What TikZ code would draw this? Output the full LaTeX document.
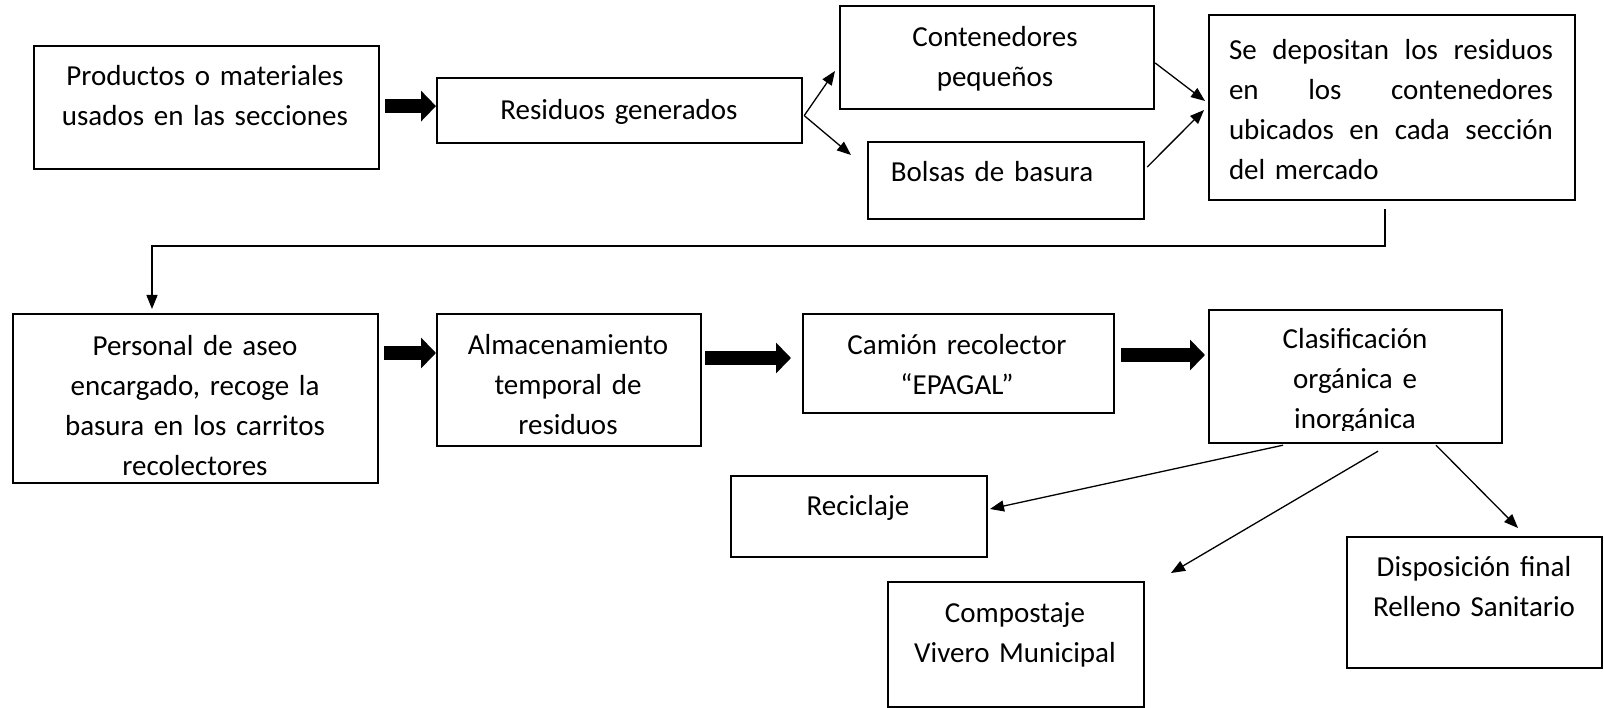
\documentclass[tikz,border=0pt]{standalone}
\usepackage{fontspec}
\setmainfont{Carlito}
\usetikzlibrary{arrows.meta,calc}
\newcommand{\fullline}[1]{\leavevmode\hbox to 324pt{#1}}
\begin{document}
\begin{tikzpicture}[x=1pt,y=-1pt,
  boxshape/.style={draw=black,line width=2.2pt,rectangle,inner sep=0pt,anchor=north west},
  boxtext/.style={font=\fontsize{29}{40}\selectfont,inner sep=0pt,anchor=base,align=center,text width=#1},
  boxtext/.default=340pt,
  linkarrow/.style={line width=1.3pt,-{Triangle[length=14pt,width=11pt]}},
  bigarrow/.style={line width=14pt,-{Triangle[length=15pt,width=30pt]}},
]
\useasboundingbox (0,0) rectangle (1604,708);

% boxes
\node[boxshape,minimum width=345pt,minimum height=123pt] (b1) at (33,45) {};
\node[boxshape,minimum width=365pt,minimum height=65pt] (b2) at (436,77) {};
\node[boxshape,minimum width=314pt,minimum height=103pt] (b3) at (839,5) {};
\node[boxshape,minimum width=276pt,minimum height=77pt] (b4) at (867,141) {};
\node[boxshape,minimum width=366pt,minimum height=185pt] (b5) at (1208,14) {};
\node[boxshape,minimum width=365pt,minimum height=169pt] (b6) at (12,313) {};
\node[boxshape,minimum width=264pt,minimum height=132pt] (b7) at (436,313) {};
\node[boxshape,minimum width=311pt,minimum height=99pt] (b8) at (802,313) {};
\node[boxshape,minimum width=293pt,minimum height=133pt] (b9) at (1208,309) {};
\node[boxshape,minimum width=256pt,minimum height=81pt] (b10) at (730,475) {};
\node[boxshape,minimum width=256pt,minimum height=125pt] (b11) at (887,581) {};
\node[boxshape,minimum width=255pt,minimum height=131pt] (b12) at (1346,536) {};

% texts
\node[boxtext] (t1) at (205,86) {Productos o materiales\\usados en las secciones};
\node[boxtext] (t2) at (619,120) {Residuos generados};
\node[boxtext] (t3) at (995,47) {Contenedores\\pequeños};
\node[boxtext] (t4) at (992,182) {Bolsas de basura};
\node[boxtext=324pt,align=left] (t5) at (1391,60) {\fullline{Se\hfill depositan\hfill los\hfill residuos}\\\fullline{en\hfill los\hfill contenedores}\\\fullline{ubicados\hfill en\hfill cada\hfill sección}\\del mercado};
\node[boxtext] (t6) at (195,356) {Personal de aseo\\encargado, recoge la\\basura en los carritos\\recolectores};
\node[boxtext=260pt] (t7) at (568,355) {Almacenamiento\\temporal de\\residuos};
\node[boxtext=300pt] (t8) at (957,355) {Camión recolector\\“EPAGAL”};
\begin{scope}
\clip (1210,300) rectangle (1499,431);
\node[boxtext=290pt] (t9) at (1355,349) {Clasificación\\orgánica e\\inorgánica};
\end{scope}
\node[boxtext=250pt] (t10) at (858,515) {Reciclaje};
\node[boxtext=250pt] (t11) at (1015,622) {Compostaje\\Vivero Municipal};
\node[boxtext=250pt] (t12) at (1474,576) {Disposición final\\Relleno Sanitario};

% free ends
\coordinate (c3in) at (835,71);
\coordinate (c4in) at (851,155);
\coordinate (c5a) at (1205,101);
\coordinate (c5b) at (1204,110);
\coordinate (turn) at (152,246);
\coordinate (c10in) at (990,509);
\coordinate (c11in) at (1171,573);
\coordinate (c12in) at (1518,528);

% thick arrows
\draw[bigarrow] ($(b1.east)+(5,-1.5)$) -- ($(b1.east -| b2.west)+(0,-1.5)$);
\draw[bigarrow] ($(b6.north east)+(5,40)$) -- ($(b6.north east -| b7.west)+(0,40)$);
\draw[bigarrow] ($(b7.north east)+(3,45)$) -- ($(b7.north east -| b8.west)+(-11,45)$);
\draw[bigarrow] ($(b8.north east)+(6,42)$) -- ($(b8.north east -| b9.west)+(-3,42)$);

% thin arrows
\draw[linkarrow] ($(b2.east)+(1,5)$) -- (c3in);
\draw[linkarrow] ($(b2.east)+(1,5)$) -- (c4in);
\draw[linkarrow] ($(b3.north east)+(0,58)$) -- (c5a);
\draw[linkarrow] ($(b4.north east)+(2,26)$) -- (c5b);
\draw[linkarrow] ($(b5.south)+(-7,8)$) |- (turn) -- ($(turn |- b6.north)+(0,-4)$);
\draw[linkarrow] ($(b9.south west)+(75,1)$) -- (c10in);
\draw[linkarrow] ($(b9.south west)+(170,7)$) -- (c11in);
\draw[linkarrow] ($(b9.south west)+(228,1)$) -- (c12in);
\end{tikzpicture}
\end{document}
